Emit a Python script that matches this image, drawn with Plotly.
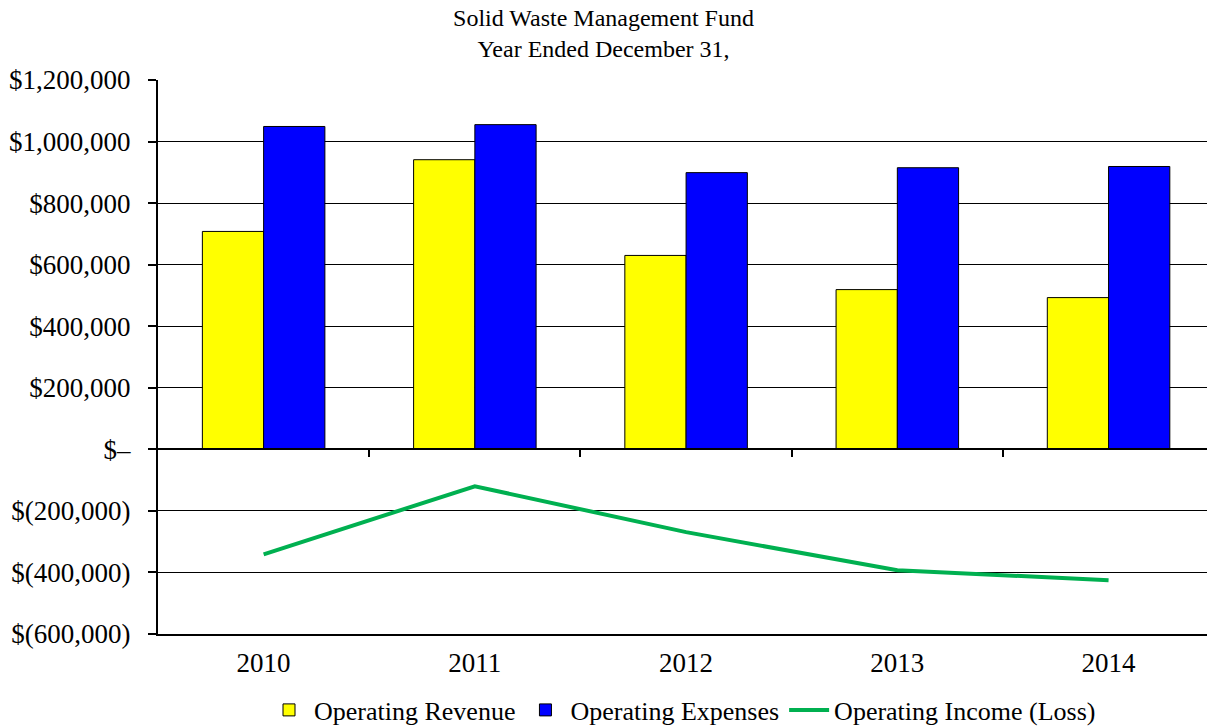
import plotly.graph_objs as go

years = ["2010", "2011", "2012", "2013", "2014"]
operating_revenue = [708000, 941000, 630000, 519000, 493000]
operating_expenses = [1049000, 1055000, 899000, 915000, 919000]
operating_income = [-341000, -120000, -269000, -393000, -425000]

y_ticks = [1200000, 1000000, 800000, 600000, 400000, 200000, 0, -200000, -400000, -600000]
y_tick_text = ["$1,200,000", "$1,000,000", "$800,000", "$600,000", "$400,000",
               "$200,000", "$–", "$(200,000)", "$(400,000)", "$(600,000)"]

x_pos = list(range(len(years)))
boundaries = [i + 0.5 for i in range(len(years) - 1)]
x_range = [-0.5, 4.466]

serif = "Liberation Serif"

fig = go.Figure()

fig.add_trace(go.Bar(
    x=x_pos, y=operating_revenue, name="Operating Revenue",
    marker=dict(color="#FFFF00", line=dict(color="black", width=1))
))
fig.add_trace(go.Bar(
    x=x_pos, y=operating_expenses, name="Operating Expenses",
    marker=dict(color="#0000FF", line=dict(color="black", width=1))
))
fig.add_trace(go.Scatter(
    x=x_pos, y=operating_income, mode="lines", name="Operating Income (Loss)",
    line=dict(color="#00B050", width=4)
))
# invisible trace to host the zero-line axis with category boundary ticks
fig.add_trace(go.Scatter(
    x=[x_pos[0], x_pos[-1]], y=[0, 0], xaxis="x2", mode="lines",
    line=dict(width=0), showlegend=False, hoverinfo="skip"
))

fig.update_layout(
    width=1207, height=727,
    title=dict(text="Solid Waste Management Fund<br>Year Ended December 31,",
               x=0.5, xanchor="center", y=1 - 26 / 727, yanchor="middle",
               font=dict(family=serif, size=24, color="black")),
    font=dict(family=serif, size=26, color="black"),
    barmode="group", bargap=0.42, bargroupgap=0,
    plot_bgcolor="white", paper_bgcolor="white",
    margin=dict(l=158, r=0, t=80, b=93, autoexpand=False),
    xaxis=dict(range=x_range, tickvals=x_pos, ticktext=years,
               tickfont=dict(family=serif, size=27, color="black"),
               showgrid=False, zeroline=False, showline=True, automargin=False,
               linecolor="black", linewidth=2, ticks="", ticklen=0,
               ticklabelstandoff=4),
    xaxis2=dict(overlaying="x", anchor="free", position=1 / 3, automargin=False,
                range=x_range, tickvals=boundaries, ticktext=[""] * len(boundaries),
                showgrid=False, zeroline=False, showline=True,
                linecolor="black", linewidth=2, ticks="outside", ticklen=7,
                tickcolor="black", tickwidth=1.5),
    yaxis=dict(range=[-600000, 1200000], tickvals=y_ticks, ticktext=y_tick_text,
               tickfont=dict(family=serif, size=27, color="black"),
               showgrid=True, gridcolor="black", gridwidth=1, automargin=False,
               zeroline=False, showline=True, linecolor="black", linewidth=2,
               ticks="outside", ticklen=8, tickcolor="black", tickwidth=1.5,
               ticklabelstandoff=12),
    legend=dict(orientation="h", x=0.5, xanchor="center",
                yref="container", y=1 - 710 / 727, yanchor="middle",
                font=dict(family=serif, size=26, color="black"), itemwidth=40,
                tracegroupgap=0),
    showlegend=True,
)

fig.write_html("out.html", config={"displayModeBar": False},
               post_script="document.body.style.margin='0';")
